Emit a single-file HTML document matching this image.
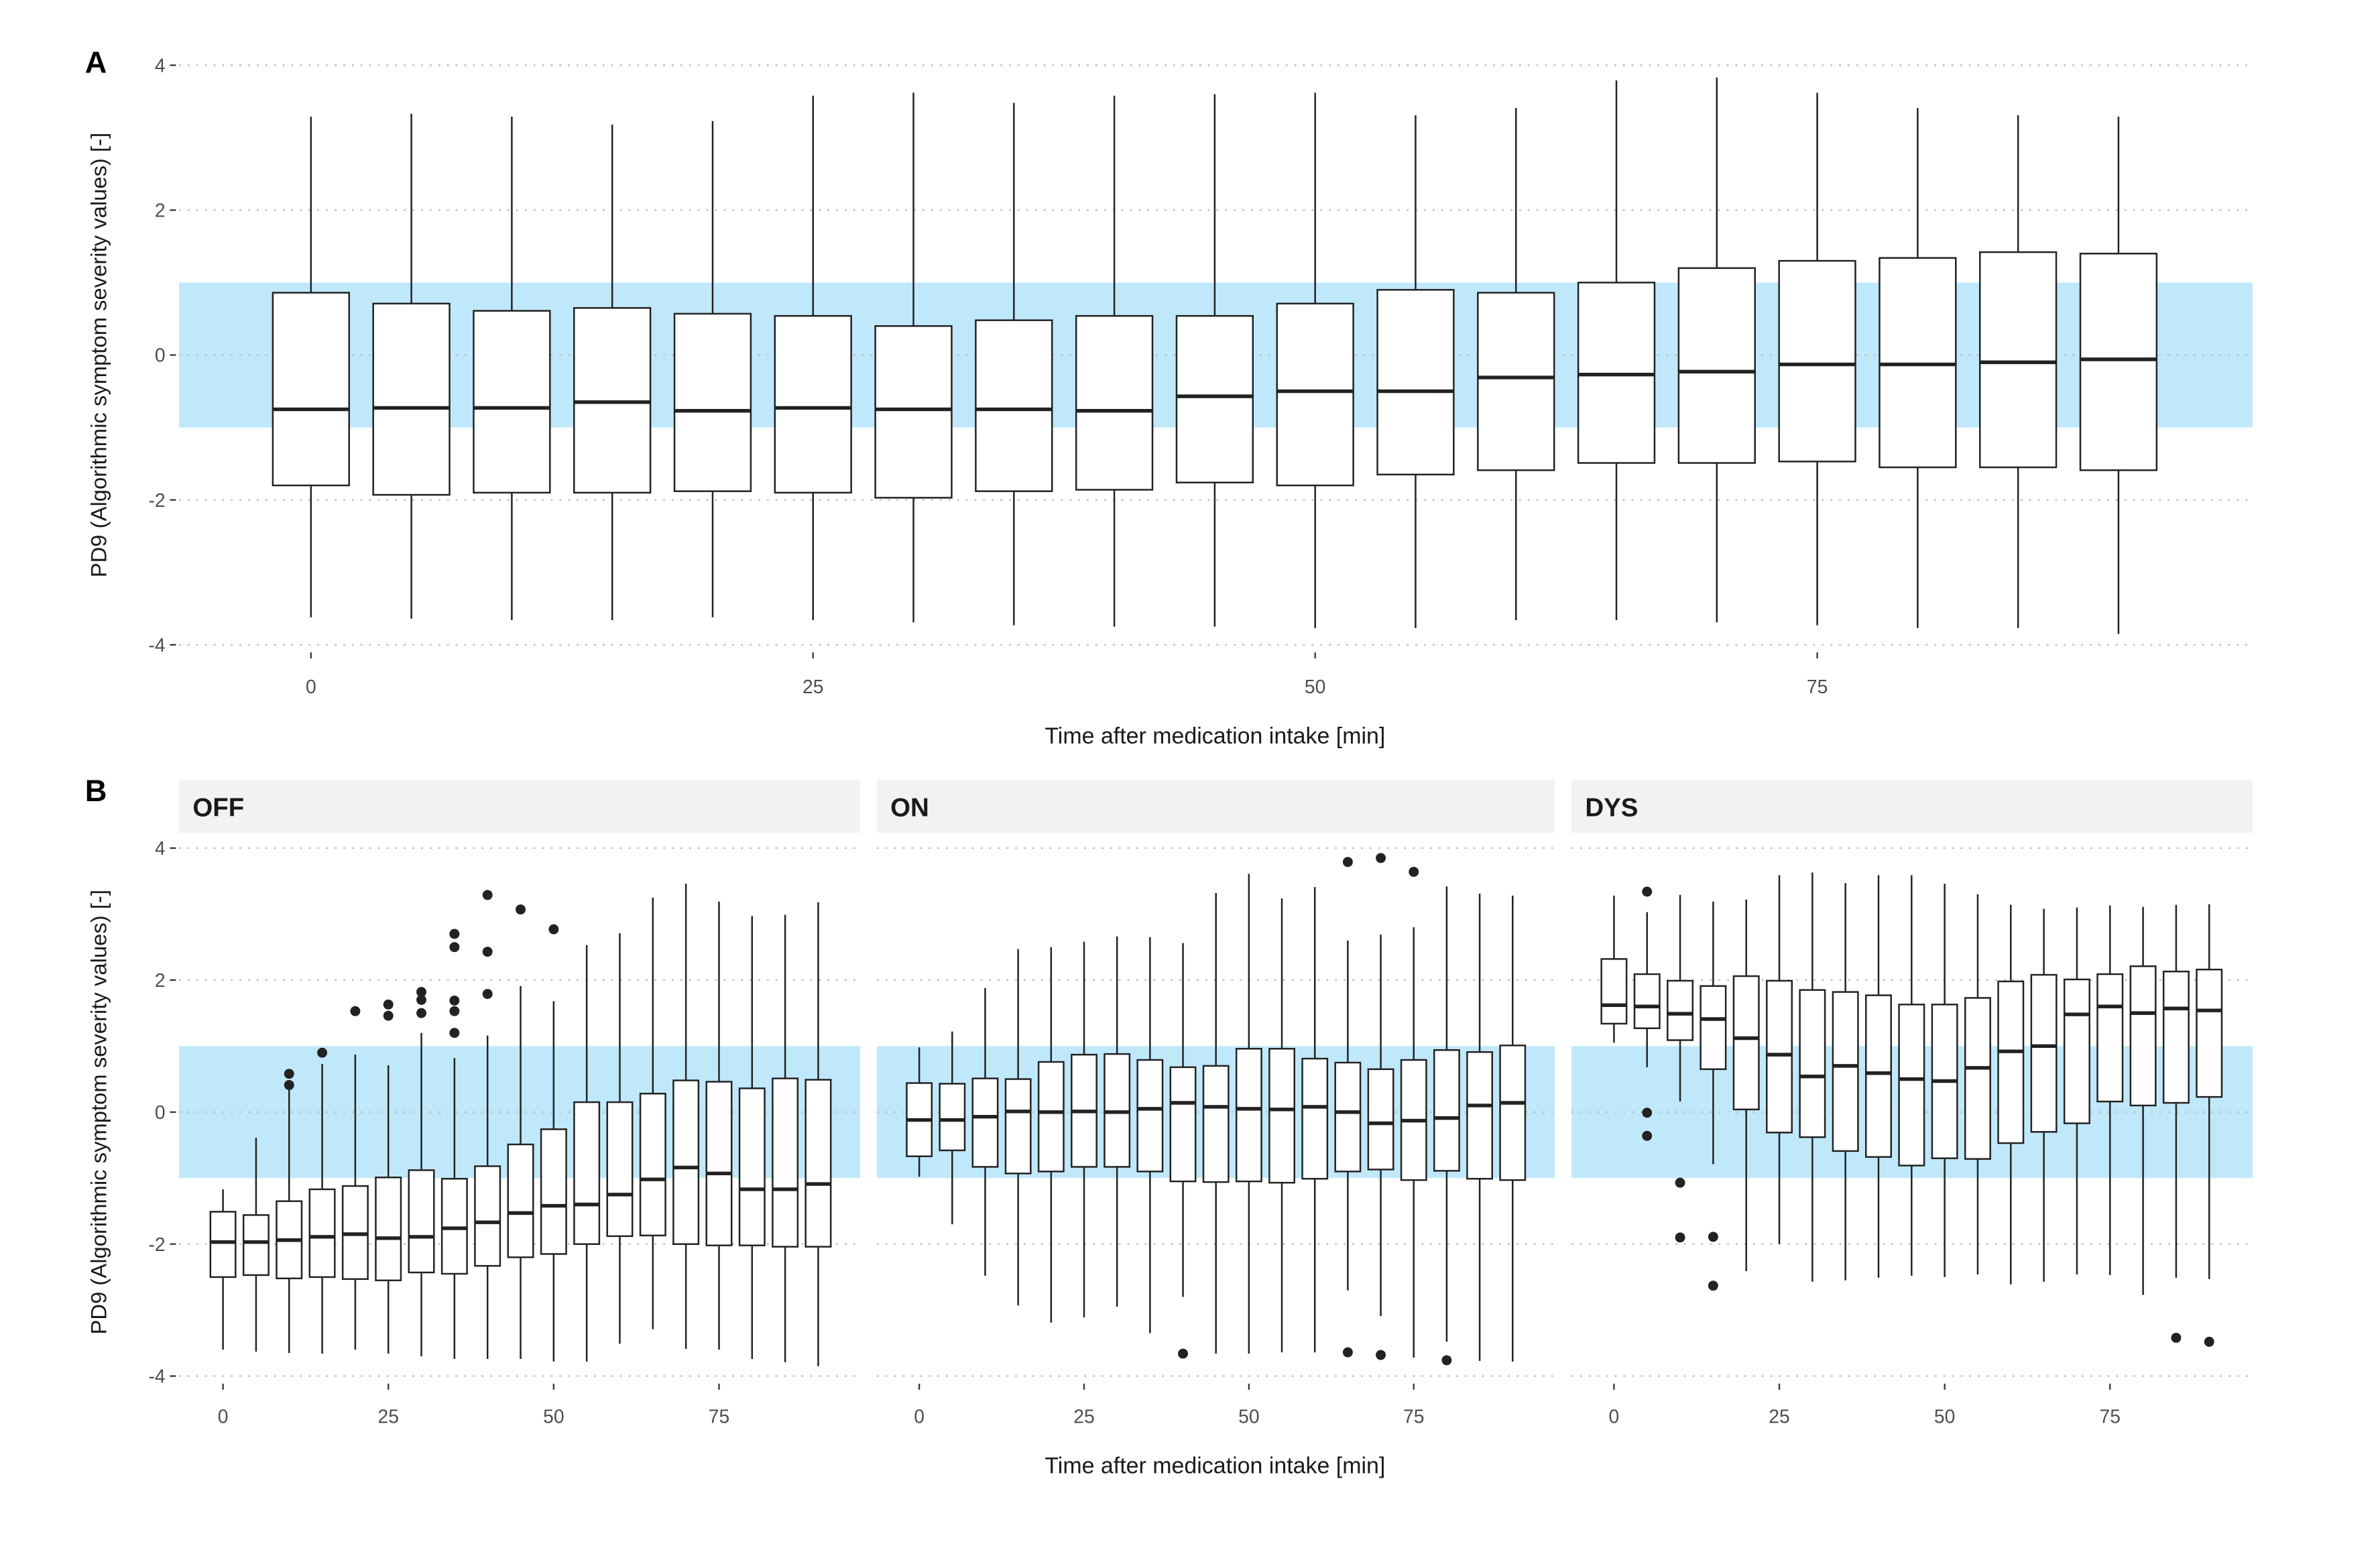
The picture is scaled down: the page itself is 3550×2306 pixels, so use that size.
<!DOCTYPE html>
<html><head><meta charset="utf-8"><style>
html,body{margin:0;padding:0;background:#fff;}
svg{display:block;font-family:"Liberation Sans",sans-serif;}
</style></head><body>
<svg id="chart" width="3550" height="2306" viewBox="0 0 1569 1019" preserveAspectRatio="none" xmlns="http://www.w3.org/2000/svg"></svg>
<script>
const minutes = [0,5,10,15,20,25,30,35,40,45,50,55,60,65,70,75,80,85,90];
// Panel A: [low, q1, median, q3, high]
const aLow = [-3.62,-3.64,-3.66,-3.66,-3.62,-3.66,-3.69,-3.73,-3.75,-3.75,-3.77,-3.77,-3.66,-3.66,-3.69,-3.73,-3.77,-3.77,-3.85];
const aQ1 = [-1.8,-1.93,-1.9,-1.9,-1.88,-1.9,-1.97,-1.88,-1.86,-1.76,-1.8,-1.65,-1.59,-1.49,-1.49,-1.47,-1.55,-1.55,-1.59];
const aMed = [-0.75,-0.73,-0.73,-0.65,-0.77,-0.73,-0.75,-0.75,-0.77,-0.57,-0.5,-0.5,-0.31,-0.27,-0.23,-0.13,-0.13,-0.1,-0.06];
const aQ3 = [0.86,0.71,0.61,0.65,0.57,0.54,0.4,0.48,0.54,0.54,0.71,0.9,0.86,1.0,1.2,1.3,1.34,1.42,1.4];
const aHigh = [3.29,3.33,3.29,3.18,3.23,3.58,3.62,3.48,3.58,3.6,3.62,3.31,3.41,3.79,3.83,3.62,3.41,3.31,3.29];
// Panel B OFF
const offLow = [-3.6,-3.63,-3.65,-3.66,-3.6,-3.66,-3.7,-3.74,-3.74,-3.74,-3.78,-3.78,-3.51,-3.29,-3.59,-3.6,-3.74,-3.79,-3.85];
const offQ1 = [-2.5,-2.47,-2.52,-2.5,-2.53,-2.55,-2.43,-2.45,-2.33,-2.2,-2.15,-2.0,-1.88,-1.87,-2.0,-2.02,-2.02,-2.04,-2.04];
const offMed = [-1.97,-1.97,-1.94,-1.89,-1.85,-1.91,-1.89,-1.76,-1.67,-1.53,-1.42,-1.4,-1.25,-1.02,-0.84,-0.93,-1.17,-1.17,-1.09];
const offQ3 = [-1.51,-1.56,-1.35,-1.17,-1.12,-0.99,-0.88,-1.01,-0.82,-0.49,-0.26,0.15,0.15,0.28,0.48,0.46,0.36,0.51,0.49];
const offHigh = [-1.17,-0.39,0.34,0.73,0.87,0.71,1.2,0.82,1.16,1.91,1.68,2.53,2.71,3.25,3.46,3.19,2.97,2.99,3.18];
const offOutX = [10,10,15,20,25,25,30,30,30,35,35,35,35,35,40,40,40,45,50];
const offOutY = [0.58,0.41,0.9,1.53,1.63,1.46,1.82,1.7,1.5,2.7,2.5,1.69,1.53,1.2,3.29,2.43,1.79,3.07,2.77];
// Panel B ON
const onLow = [-0.98,-1.7,-2.48,-2.93,-3.19,-3.11,-2.95,-3.35,-2.8,-3.66,-3.66,-3.64,-3.64,-2.7,-3.09,-3.72,-3.48,-3.77,-3.78];
const onQ1 = [-0.67,-0.58,-0.83,-0.93,-0.9,-0.83,-0.83,-0.9,-1.05,-1.06,-1.05,-1.07,-1.01,-0.9,-0.87,-1.03,-0.89,-1.01,-1.03];
const onMed = [-0.12,-0.12,-0.07,0.01,0.0,0.01,0.0,0.05,0.14,0.08,0.05,0.04,0.08,0.0,-0.17,-0.13,-0.09,0.1,0.14];
const onQ3 = [0.44,0.43,0.51,0.5,0.76,0.87,0.88,0.79,0.68,0.7,0.96,0.96,0.81,0.75,0.65,0.79,0.94,0.91,1.01];
const onHigh = [0.98,1.22,1.88,2.47,2.5,2.58,2.66,2.65,2.56,3.32,3.61,3.24,3.41,2.6,2.69,2.8,3.42,3.31,3.28];
const onOutX = [40,65,65,70,70,75,80];
const onOutY = [-3.66,3.79,-3.64,3.85,-3.68,3.64,-3.76];
// Panel B DYS
const dysLow = [1.05,0.68,0.16,-0.79,-2.41,-2.0,-2.57,-2.55,-2.51,-2.48,-2.5,-2.46,-2.61,-2.57,-2.46,-2.47,-2.77,-2.51,-2.53];
const dysQ1 = [1.34,1.27,1.09,0.65,0.04,-0.31,-0.38,-0.59,-0.68,-0.81,-0.7,-0.71,-0.47,-0.3,-0.17,0.16,0.1,0.14,0.23];
const dysMed = [1.62,1.6,1.49,1.41,1.12,0.87,0.54,0.7,0.59,0.5,0.47,0.67,0.92,1.0,1.48,1.6,1.5,1.57,1.54];
const dysQ3 = [2.32,2.09,1.99,1.91,2.06,1.99,1.85,1.82,1.77,1.63,1.63,1.73,1.98,2.08,2.01,2.09,2.21,2.13,2.16];
const dysHigh = [3.28,3.03,3.29,3.19,3.22,3.59,3.63,3.47,3.59,3.59,3.46,3.3,3.14,3.08,3.1,3.13,3.11,3.14,3.15];
const dysOutX = [5,5,5,10,10,15,15,85,90];
const dysOutY = [3.34,-0.01,-0.36,-1.07,-1.9,-1.89,-2.63,-3.42,-3.48];
const yTicks = [4,2,0,-2,-4];
const xTicks = [0,25,50,75];
const facetNames = ["OFF","ON","DYS"];

const NS = "http://www.w3.org/2000/svg";
const svg = document.getElementById("chart");
function mk(tag, attrs, parent){
  const e = document.createElementNS(NS, tag);
  for (const k in attrs) e.setAttribute(k, attrs[k]);
  (parent||svg).appendChild(e);
  return e;
}
function lin(d0,d1,r0,r1){ return v => r0 + (v-d0)*(r1-r0)/(d1-d0); }

function drawPanel(g, x0, x1, y, xs, withYLabels, low, q1, med, q3, high, outX, outY, boxW, tickY, labY, tag){
  const band = mk("rect",{x:x0,y:y(1),width:x1-x0,height:y(-1)-y(1),fill:"#c0e8fb"},g);
  
  
  yTicks.forEach(t=>{
    const gl = mk("line",{x1:x0,x2:x1,y1:y(t),y2:y(t),stroke:"#b8b8b8","stroke-width":1,"stroke-dasharray":"1.2,4.5"},g);
    
    
    if (withYLabels){
      mk("line",{x1:x0-6,x2:x0-2,y1:y(t),y2:y(t),stroke:"#333","stroke-width":1},g);
      const tl = mk("text",{x:x0-9,y:y(t)+4.5,"text-anchor":"end","font-size":12.5,fill:"#4d4d4d"},g);
      tl.textContent = t;
      
      
    }
  });
  xTicks.forEach(t=>{
    mk("line",{x1:xs(t),x2:xs(t),y1:tickY,y2:tickY+4,stroke:"#333","stroke-width":1},g);
    const tl = mk("text",{x:xs(t),y:labY,"text-anchor":"middle","font-size":12.5,fill:"#4d4d4d"},g);
    tl.textContent = t;
    
    
  });
  minutes.forEach((m,i)=>{
    const cx = xs(m), hw = (xs(boxW)-xs(0))/2;
    const bg = mk("g",{},g);
    
    
    mk("line",{x1:cx,x2:cx,y1:y(high[i]),y2:y(q3[i]),stroke:"#222","stroke-width":1.1},bg);
    mk("line",{x1:cx,x2:cx,y1:y(q1[i]),y2:y(low[i]),stroke:"#222","stroke-width":1.1},bg);
    mk("rect",{x:cx-hw,y:y(q3[i]),width:2*hw,height:y(q1[i])-y(q3[i]),fill:"#fff",stroke:"#222","stroke-width":1.1},bg);
    mk("line",{x1:cx-hw,x2:cx+hw,y1:y(med[i]),y2:y(med[i]),stroke:"#222","stroke-width":2.4},bg);
  });
  outX.forEach((m,i)=>{
    const c = mk("circle",{cx:xs(m),cy:y(outY[i]),r:3.3,fill:"#222"},g);
    
    
  });
}

const gA = mk("g",{});


const yA = lin(-4,4,425,43);
const xA = lin(0,75,205,1198);
drawPanel(gA,118,1485,yA,xA,true,aLow,aQ1,aMed,aQ3,aHigh,[],[],3.8,430,457,'panel-a');

const yB = lin(-4,4,907,559);
const facetX = [[118,567,147,474],[578,1025,606,932],[1036,1485,1064,1391]];
const dataB = [[offLow,offQ1,offMed,offQ3,offHigh,offOutX,offOutY],[onLow,onQ1,onMed,onQ3,onHigh,onOutX,onOutY],[dysLow,dysQ1,dysMed,dysQ3,dysHigh,dysOutX,dysOutY]];
facetNames.forEach((nm,f)=>{
  const [x0,x1,p0,p75] = facetX[f];
  const g = mk("g",{});
  
  
  const strip = mk("rect",{x:x0,y:514,width:x1-x0,height:35,fill:"#f2f2f2"},g);
  
  
  const st = mk("text",{x:x0+9,y:538,"font-size":17,"font-weight":"bold",fill:"#1a1a1a"},g);
  st.textContent = nm;
  
  
  const d = dataB[f];
  drawPanel(g,x0,x1,yB,lin(0,75,p0,p75),f===0,d[0],d[1],d[2],d[3],d[4],d[5],d[6],3.8,912,938,'panel-b-'+nm.toLowerCase());
});

function txt(attrs, s, name){
  const t = mk("text", attrs);
  t.textContent = s;
  
  
}
txt({x:56,y:48,"font-size":20,"font-weight":"bold",fill:"#000"},"A","panel-label-a");
txt({x:56,y:528,"font-size":20,"font-weight":"bold",fill:"#000"},"B","panel-label-b");
txt({x:801,y:490,"text-anchor":"middle","font-size":15,fill:"#1a1a1a"},"Time after medication intake [min]","x-axis-title-a");
txt({x:801,y:971,"text-anchor":"middle","font-size":15,fill:"#1a1a1a"},"Time after medication intake [min]","x-axis-title-b");
txt({x:0,y:0,"text-anchor":"middle","font-size":14.5,fill:"#1a1a1a",transform:"translate(70,234) rotate(-90)"},"PD9 (Algorithmic symptom severity values) [-]","y-axis-title-a");
txt({x:0,y:0,"text-anchor":"middle","font-size":14.5,fill:"#1a1a1a",transform:"translate(70,733) rotate(-90)"},"PD9 (Algorithmic symptom severity values) [-]","y-axis-title-b");
</script>
</body></html>
